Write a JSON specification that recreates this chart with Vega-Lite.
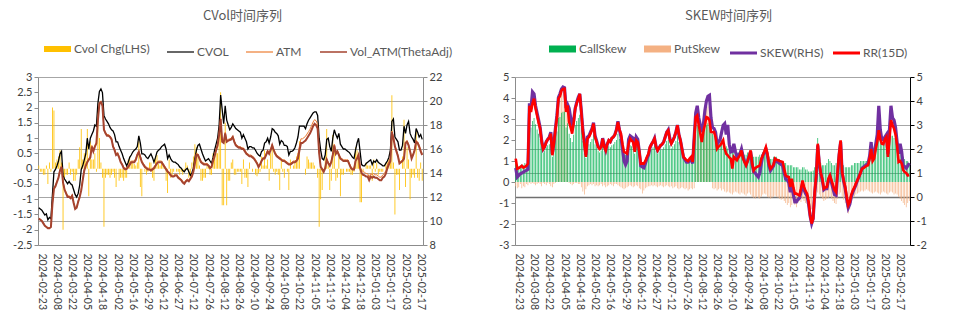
{
"$schema": "https://vega.github.io/schema/vega-lite/v6.json",
"padding": {"left": 12, "top": 10, "right": 5, "bottom": 5},
"bounds": "flush",
"spacing": 92,
"config": {
  "view": {"stroke": null},
  "font": "Lato",
  "axis": {"labelFont": "Lato", "labelFontSize": 11, "labelColor": "#404040", "domainColor": "#8C8C8C", "tickColor": "#8C8C8C", "tickSize": 4, "title": null, "grid": false},
  "title": {"font": "Noto Sans CJK SC", "fontSize": 13, "fontWeight": "normal", "color": "#595959", "offset": 20},
  "legend": {"labelFont": "Lato", "labelFontSize": 12, "labelColor": "#595959", "orient": "none", "direction": "horizontal", "symbolType": "stroke", "symbolSize": 729, "columnPadding": 15, "labelOffset": 10.5, "title": null}
},
"datasets": {"dd": [
{"d":"2024-02-21","c":0.1,"v":11.1,"a":10.25,"t":10.2,"g":0.85,"q":-0.2,"s":1.21,"r":1.6},
{"d":"2024-02-22","c":-0.1,"v":11.0,"a":10.15,"t":10.1,"g":0.8,"q":-0.3,"s":0.83,"r":1.18},
{"d":"2024-02-23","c":-0.1,"v":10.9,"a":10.05,"t":10.0,"g":0.75,"q":-0.25,"s":0.9,"r":1.2},
{"d":"2024-02-26","c":-0.2,"v":10.7,"a":9.85,"t":9.8,"g":0.8,"q":-0.1,"s":0.97,"r":1.25},
{"d":"2024-02-27","c":-0.2,"v":10.5,"a":9.65,"t":9.6,"g":0.85,"q":-0.3,"s":1.0,"r":1.3},
{"d":"2024-02-28","c":0.1,"v":10.6,"a":9.55,"t":9.5,"g":0.8,"q":-0.2,"s":1.04,"r":1.22},
{"d":"2024-02-29","c":-0.5,"v":10.1,"a":9.45,"t":9.4,"g":0.9,"q":-0.25,"s":1.08,"r":1.25},
{"d":"2024-03-01","c":0.2,"v":10.3,"a":9.45,"t":9.4,"g":0.85,"q":-0.1,"s":1.11,"r":1.3},
{"d":"2024-03-04","c":-0.1,"v":10.2,"a":9.55,"t":9.5,"g":0.8,"q":-0.15,"s":1.15,"r":1.39},
{"d":"2024-03-05","c":2.0,"v":12.2,"a":11.45,"t":11.4,"g":2.8,"q":-0.05,"s":3.9,"r":3.8},
{"d":"2024-03-06","c":1.9,"v":14.1,"a":12.75,"t":12.7,"g":2.6,"q":-0.1,"s":3.7,"r":3.54},
{"d":"2024-03-07","c":0.2,"v":14.3,"a":13.0,"t":12.9,"g":2.9,"q":-0.05,"s":4.38,"r":3.9},
{"d":"2024-03-08","c":0.3,"v":14.6,"a":13.35,"t":13.25,"g":3.05,"q":-0.1,"s":4.3,"r":4.1},
{"d":"2024-03-11","c":0.4,"v":15.0,"a":13.7,"t":13.6,"g":2.75,"q":-0.15,"s":3.8,"r":3.7},
{"d":"2024-03-12","c":0.6,"v":15.6,"a":14.3,"t":14.2,"g":2.5,"q":-0.1,"s":3.5,"r":3.4},
{"d":"2024-03-13","c":0.2,"v":15.8,"a":14.6,"t":14.5,"g":2.3,"q":-0.05,"s":3.2,"r":3.1},
{"d":"2024-03-14","c":-2.0,"v":13.8,"a":13.3,"t":13.2,"g":2.05,"q":-0.1,"s":2.9,"r":2.85},
{"d":"2024-03-15","c":-0.3,"v":13.5,"a":12.7,"t":12.6,"g":1.65,"q":-0.2,"s":2.35,"r":2.3},
{"d":"2024-03-18","c":-0.2,"v":13.3,"a":12.4,"t":12.3,"g":1.4,"q":-0.05,"s":2.0,"r":2.0},
{"d":"2024-03-19","c":-0.2,"v":13.1,"a":12.1,"t":12.0,"g":1.5,"q":-0.1,"s":2.1,"r":2.1},
{"d":"2024-03-20","c":0.2,"v":13.3,"a":12.1,"t":12.0,"g":1.65,"q":-0.15,"s":2.3,"r":2.29},
{"d":"2024-03-21","c":-0.2,"v":13.1,"a":12.0,"t":11.9,"g":1.75,"q":-0.05,"s":2.4,"r":2.4},
{"d":"2024-03-22","c":-0.1,"v":13.0,"a":12.2,"t":12.1,"g":1.8,"q":-0.1,"s":2.5,"r":2.46},
{"d":"2024-03-25","c":-0.4,"v":12.6,"a":11.6,"t":11.5,"g":1.9,"q":-0.2,"s":2.7,"r":2.64},
{"d":"2024-03-26","c":-0.4,"v":12.2,"a":11.1,"t":11.0,"g":1.2,"q":-0.25,"s":1.8,"r":1.74},
{"d":"2024-03-27","c":-0.2,"v":12.0,"a":11.2,"t":11.1,"g":1.55,"q":-0.1,"s":2.25,"r":2.2},
{"d":"2024-03-28","c":0.3,"v":12.3,"a":11.7,"t":11.6,"g":2.05,"q":-0.05,"s":2.85,"r":2.8},
{"d":"2024-03-29","c":0.7,"v":13.0,"a":12.1,"t":12.0,"g":2.4,"q":2.9,"s":3.4,"r":3.3},
{"d":"2024-04-01","c":1.3,"v":14.3,"a":12.65,"t":12.55,"g":3.05,"q":3.8,"s":4.15,"r":4.1},
{"d":"2024-04-02","c":0.3,"v":14.6,"a":13.5,"t":13.4,"g":3.1,"q":4.0,"s":4.3,"r":4.2},
{"d":"2024-04-03","c":0.5,"v":15.1,"a":14.3,"t":14.2,"g":3.3,"q":4.2,"s":4.5,"r":4.44},
{"d":"2024-04-04","c":0.5,"v":15.6,"a":14.7,"t":14.6,"g":3.35,"q":4.3,"s":4.58,"r":4.5},
{"d":"2024-04-05","c":1.3,"v":16.9,"a":15.0,"t":14.9,"g":3.35,"q":4.3,"s":4.55,"r":4.51},
{"d":"2024-04-07","c":-0.9,"v":16.0,"a":15.2,"t":15.1,"g":2.6,"q":3.4,"s":3.7,"r":3.54},
{"d":"2024-04-08","c":0.9,"v":16.9,"a":15.4,"t":15.3,"g":2.8,"q":3.3,"s":3.85,"r":3.82},
{"d":"2024-04-09","c":0.3,"v":17.2,"a":16.3,"t":16.2,"g":2.3,"q":-0.05,"s":3.7,"r":3.12},
{"d":"2024-04-10","c":0.3,"v":17.5,"a":15.9,"t":15.8,"g":2.1,"q":-0.1,"s":3.3,"r":2.9},
{"d":"2024-04-11","c":0.5,"v":18.0,"a":16.3,"t":16.2,"g":1.9,"q":-0.15,"s":2.8,"r":2.64},
{"d":"2024-04-12","c":-0.1,"v":17.9,"a":16.55,"t":16.45,"g":2.25,"q":-0.1,"s":3.2,"r":3.1},
{"d":"2024-04-15","c":1.9,"v":19.8,"a":18.5,"t":18.4,"g":2.7,"q":-0.05,"s":3.7,"r":3.68},
{"d":"2024-04-16","c":1.0,"v":20.8,"a":19.9,"t":19.8,"g":2.9,"q":-0.05,"s":3.95,"r":3.9},
{"d":"2024-04-17","c":0.2,"v":21.0,"a":20.0,"t":19.9,"g":3.05,"q":-0.1,"s":4.15,"r":4.1},
{"d":"2024-04-18","c":-0.3,"v":20.7,"a":19.7,"t":19.6,"g":3.2,"q":-0.1,"s":4.3,"r":4.3},
{"d":"2024-04-19","c":-1.9,"v":18.8,"a":17.7,"t":17.6,"g":2.6,"q":-0.25,"s":3.6,"r":3.54},
{"d":"2024-04-22","c":-0.3,"v":18.5,"a":17.4,"t":17.3,"g":1.95,"q":-0.45,"s":2.8,"r":2.71},
{"d":"2024-04-23","c":-0.2,"v":18.3,"a":17.2,"t":17.1,"g":1.55,"q":-0.6,"s":2.3,"r":2.2},
{"d":"2024-04-24","c":-0.2,"v":18.1,"a":17.2,"t":17.1,"g":1.15,"q":-0.35,"s":1.75,"r":1.67},
{"d":"2024-04-25","c":-0.3,"v":17.8,"a":17.1,"t":17.0,"g":1.75,"q":-0.2,"s":2.5,"r":2.43},
{"d":"2024-04-26","c":-0.2,"v":17.6,"a":16.9,"t":16.8,"g":1.8,"q":-0.15,"s":2.55,"r":2.5},
{"d":"2024-04-29","c":-0.1,"v":17.5,"a":16.3,"t":16.2,"g":1.9,"q":-0.1,"s":2.7,"r":2.64},
{"d":"2024-04-30","c":-0.3,"v":17.2,"a":16.0,"t":15.9,"g":2.05,"q":-0.15,"s":2.85,"r":2.8},
{"d":"2024-05-01","c":-0.6,"v":16.6,"a":15.6,"t":15.5,"g":2.25,"q":-0.1,"s":3.1,"r":3.06},
{"d":"2024-05-02","c":0.0,"v":16.6,"a":15.7,"t":15.6,"g":1.8,"q":-0.2,"s":2.55,"r":2.5},
{"d":"2024-05-03","c":-0.4,"v":16.2,"a":15.4,"t":15.3,"g":1.65,"q":-0.15,"s":2.35,"r":2.3},
{"d":"2024-05-06","c":-0.3,"v":15.9,"a":15.0,"t":14.9,"g":1.5,"q":-0.2,"s":2.1,"r":2.08},
{"d":"2024-05-07","c":-0.3,"v":15.6,"a":14.8,"t":14.7,"g":1.4,"q":-0.15,"s":2.05,"r":2.0},
{"d":"2024-05-08","c":-0.4,"v":15.2,"a":14.5,"t":14.4,"g":1.5,"q":-0.1,"s":2.1,"r":2.08},
{"d":"2024-05-09","c":-0.3,"v":14.9,"a":14.4,"t":14.3,"g":1.75,"q":-0.2,"s":2.45,"r":2.43},
{"d":"2024-05-10","c":-0.3,"v":14.6,"a":14.45,"t":14.35,"g":1.5,"q":-0.15,"s":2.15,"r":2.1},
{"d":"2024-05-13","c":0.3,"v":14.9,"a":14.6,"t":14.5,"g":1.35,"q":-0.25,"s":1.95,"r":1.94},
{"d":"2024-05-14","c":0.4,"v":15.3,"a":14.8,"t":14.7,"g":1.55,"q":-0.2,"s":2.2,"r":2.2},
{"d":"2024-05-15","c":0.2,"v":15.5,"a":15.0,"t":14.9,"g":1.7,"q":-0.15,"s":2.35,"r":2.36},
{"d":"2024-05-16","c":0.25,"v":15.75,"a":15.0,"t":14.9,"g":1.65,"q":-0.1,"s":2.3,"r":2.3},
{"d":"2024-05-17","c":0.15,"v":15.9,"a":15.0,"t":14.9,"g":1.75,"q":-0.15,"s":2.45,"r":2.45},
{"d":"2024-05-19","c":0.1,"v":16.0,"a":15.2,"t":15.1,"g":1.8,"q":-0.2,"s":2.5,"r":2.5},
{"d":"2024-05-20","c":0.2,"v":16.2,"a":15.6,"t":15.5,"g":1.9,"q":-0.1,"s":2.6,"r":2.6},
{"d":"2024-05-21","c":0.9,"v":17.1,"a":15.85,"t":15.75,"g":2.0,"q":-0.1,"s":2.8,"r":2.78},
{"d":"2024-05-22","c":-0.6,"v":16.5,"a":15.4,"t":15.3,"g":2.3,"q":-0.15,"s":3.15,"r":3.12},
{"d":"2024-05-23","c":-0.9,"v":15.6,"a":15.0,"t":14.9,"g":2.05,"q":-0.2,"s":2.8,"r":2.8},
{"d":"2024-05-24","c":0.0,"v":15.6,"a":14.8,"t":14.7,"g":1.9,"q":-0.25,"s":2.5,"r":2.64},
{"d":"2024-05-27","c":-0.1,"v":15.5,"a":14.6,"t":14.5,"g":1.55,"q":-0.3,"s":2.0,"r":2.2},
{"d":"2024-05-28","c":-0.2,"v":15.3,"a":14.5,"t":14.4,"g":1.35,"q":-0.35,"s":1.5,"r":1.88},
{"d":"2024-05-29","c":-0.1,"v":15.2,"a":14.4,"t":14.3,"g":1.3,"q":-0.3,"s":1.35,"r":1.85},
{"d":"2024-05-30","c":0.2,"v":15.4,"a":14.4,"t":14.3,"g":1.25,"q":-0.25,"s":1.5,"r":1.81},
{"d":"2024-05-31","c":0.2,"v":15.6,"a":14.3,"t":14.2,"g":1.55,"q":-0.2,"s":2.4,"r":2.2},
{"d":"2024-06-03","c":-0.3,"v":15.3,"a":14.4,"t":14.3,"g":1.75,"q":-0.15,"s":2.55,"r":2.43},
{"d":"2024-06-04","c":-0.4,"v":14.9,"a":14.5,"t":14.4,"g":1.7,"q":-0.2,"s":2.5,"r":2.35},
{"d":"2024-06-05","c":0.4,"v":15.3,"a":14.7,"t":14.6,"g":1.65,"q":-0.25,"s":2.45,"r":2.29},
{"d":"2024-06-06","c":0.45,"v":15.75,"a":14.9,"t":14.8,"g":1.35,"q":-0.2,"s":2.0,"r":1.88},
{"d":"2024-06-07","c":0.15,"v":15.9,"a":15.0,"t":14.9,"g":1.7,"q":-0.15,"s":2.5,"r":2.36},
{"d":"2024-06-10","c":0.1,"v":16.0,"a":15.0,"t":14.9,"g":1.65,"q":-0.2,"s":2.4,"r":2.29},
{"d":"2024-06-11","c":0.2,"v":16.2,"a":15.0,"t":14.9,"g":1.35,"q":-0.3,"s":1.9,"r":1.9},
{"d":"2024-06-12","c":0.1,"v":16.3,"a":14.8,"t":14.7,"g":0.95,"q":-0.35,"s":1.3,"r":1.39},
{"d":"2024-06-13","c":0.1,"v":16.4,"a":14.6,"t":14.5,"g":0.95,"q":-0.55,"s":1.25,"r":1.4},
{"d":"2024-06-14","c":-0.4,"v":16.0,"a":14.4,"t":14.3,"g":0.95,"q":-0.4,"s":1.22,"r":1.39},
{"d":"2024-06-17","c":-0.8,"v":15.2,"a":14.2,"t":14.1,"g":1.05,"q":-0.3,"s":1.4,"r":1.5},
{"d":"2024-06-18","c":0.3,"v":15.5,"a":14.1,"t":14.0,"g":1.15,"q":-0.25,"s":1.6,"r":1.67},
{"d":"2024-06-20","c":-0.3,"v":15.2,"a":13.9,"t":13.8,"g":1.25,"q":-0.2,"s":1.75,"r":1.8},
{"d":"2024-06-21","c":-0.2,"v":15.0,"a":13.8,"t":13.7,"g":1.5,"q":-0.2,"s":2.05,"r":2.08},
{"d":"2024-06-24","c":-0.1,"v":14.9,"a":13.8,"t":13.7,"g":1.55,"q":-0.15,"s":2.2,"r":2.2},
{"d":"2024-06-25","c":0.0,"v":14.9,"a":13.9,"t":13.8,"g":1.65,"q":-0.2,"s":2.3,"r":2.3},
{"d":"2024-06-26","c":-0.1,"v":14.8,"a":13.9,"t":13.8,"g":1.75,"q":-0.15,"s":2.45,"r":2.43},
{"d":"2024-06-27","c":-0.1,"v":14.7,"a":13.7,"t":13.6,"g":1.5,"q":-0.2,"s":2.1,"r":2.1},
{"d":"2024-06-28","c":-0.2,"v":14.5,"a":13.6,"t":13.5,"g":1.35,"q":-0.25,"s":1.95,"r":1.94},
{"d":"2024-07-01","c":-0.1,"v":14.4,"a":13.5,"t":13.4,"g":1.45,"q":-0.2,"s":2.05,"r":2.05},
{"d":"2024-07-02","c":-0.2,"v":14.2,"a":13.3,"t":13.2,"g":1.55,"q":-0.15,"s":2.15,"r":2.15},
{"d":"2024-07-03","c":-0.1,"v":14.1,"a":13.2,"t":13.1,"g":1.55,"q":-0.2,"s":2.2,"r":2.2},
{"d":"2024-07-05","c":0.2,"v":14.3,"a":13.4,"t":13.3,"g":1.65,"q":-0.25,"s":2.3,"r":2.29},
{"d":"2024-07-08","c":0.1,"v":14.4,"a":13.5,"t":13.4,"g":1.8,"q":-0.2,"s":2.5,"r":2.5},
{"d":"2024-07-09","c":-0.3,"v":14.1,"a":13.4,"t":13.3,"g":1.95,"q":-0.15,"s":2.7,"r":2.7},
{"d":"2024-07-10","c":-0.3,"v":13.8,"a":13.6,"t":13.5,"g":2.0,"q":-0.2,"s":2.8,"r":2.78},
{"d":"2024-07-11","c":0.2,"v":14.0,"a":13.8,"t":13.7,"g":1.75,"q":-0.25,"s":2.45,"r":2.4},
{"d":"2024-07-12","c":0.4,"v":14.4,"a":14.2,"t":14.1,"g":1.6,"q":-0.2,"s":2.25,"r":2.22},
{"d":"2024-07-15","c":0.8,"v":15.2,"a":14.9,"t":14.8,"g":1.7,"q":-0.3,"s":2.35,"r":2.35},
{"d":"2024-07-16","c":0.7,"v":15.9,"a":15.6,"t":15.5,"g":1.8,"q":-0.25,"s":2.5,"r":2.5},
{"d":"2024-07-17","c":0.4,"v":16.3,"a":15.6,"t":15.5,"g":1.95,"q":-0.2,"s":2.7,"r":2.7},
{"d":"2024-07-18","c":0.1,"v":16.4,"a":15.3,"t":15.2,"g":2.2,"q":-0.3,"s":3.0,"r":2.99},
{"d":"2024-07-19","c":-0.4,"v":16.0,"a":15.0,"t":14.9,"g":1.9,"q":-0.35,"s":2.6,"r":2.6},
{"d":"2024-07-22","c":-0.4,"v":15.6,"a":14.9,"t":14.8,"g":1.7,"q":-0.3,"s":2.35,"r":2.36},
{"d":"2024-07-23","c":-0.3,"v":15.3,"a":14.8,"t":14.7,"g":1.4,"q":-0.25,"s":2.0,"r":2.0},
{"d":"2024-07-24","c":-0.3,"v":15.0,"a":14.8,"t":14.7,"g":1.15,"q":-0.3,"s":1.65,"r":1.67},
{"d":"2024-07-25","c":0.1,"v":15.1,"a":14.8,"t":14.7,"g":1.1,"q":-0.35,"s":1.55,"r":1.6},
{"d":"2024-07-26","c":0.1,"v":15.2,"a":14.7,"t":14.6,"g":1.05,"q":-0.3,"s":1.45,"r":1.53},
{"d":"2024-07-29","c":-0.2,"v":15.0,"a":14.5,"t":14.4,"g":1.05,"q":-0.4,"s":1.45,"r":1.5},
{"d":"2024-07-30","c":-0.2,"v":14.8,"a":14.6,"t":14.5,"g":1.1,"q":-0.35,"s":1.5,"r":1.6},
{"d":"2024-07-31","c":0.5,"v":15.3,"a":15.1,"t":15.0,"g":1.15,"q":-0.3,"s":1.6,"r":1.67},
{"d":"2024-08-01","c":0.6,"v":15.9,"a":15.5,"t":15.4,"g":1.0,"q":-0.35,"s":1.4,"r":1.46},
{"d":"2024-08-02","c":0.5,"v":16.4,"a":16.0,"t":15.9,"g":1.75,"q":-0.3,"s":2.5,"r":2.4},
{"d":"2024-08-05","c":0.5,"v":16.9,"a":16.4,"t":16.3,"g":2.45,"q":2.9,"s":3.5,"r":3.33},
{"d":"2024-08-06","c":1.1,"v":18.0,"a":17.3,"t":17.2,"g":2.7,"q":3.3,"s":3.8,"r":3.4},
{"d":"2024-08-07","c":2.5,"v":20.5,"a":18.6,"t":18.5,"g":2.5,"q":3.0,"s":3.3,"r":2.99},
{"d":"2024-08-08","c":-1.2,"v":19.3,"a":16.7,"t":16.6,"g":2.3,"q":2.8,"s":3.0,"r":2.64},
{"d":"2024-08-12","c":-1.2,"v":18.1,"a":16.6,"t":16.5,"g":2.2,"q":2.6,"s":2.7,"r":2.29},
{"d":"2024-08-13","c":1.5,"v":19.6,"a":17.4,"t":17.3,"g":2.3,"q":2.9,"s":3.0,"r":2.71},
{"d":"2024-08-14","c":-1.2,"v":18.4,"a":16.7,"t":16.6,"g":2.5,"q":3.3,"s":3.6,"r":3.0},
{"d":"2024-08-15","c":-0.4,"v":18.0,"a":16.8,"t":16.7,"g":2.7,"q":3.5,"s":4.0,"r":3.33},
{"d":"2024-08-16","c":-0.4,"v":17.6,"a":16.85,"t":16.75,"g":2.8,"q":3.6,"s":4.2,"r":3.3},
{"d":"2024-08-19","c":0.2,"v":17.8,"a":16.9,"t":16.8,"g":2.8,"q":3.6,"s":4.24,"r":3.2},
{"d":"2024-08-20","c":0.3,"v":18.1,"a":17.1,"t":17.0,"g":2.5,"q":3.0,"s":3.3,"r":2.71},
{"d":"2024-08-21","c":-0.2,"v":17.9,"a":16.7,"t":16.6,"g":2.3,"q":-0.3,"s":2.9,"r":2.7},
{"d":"2024-08-22","c":-0.2,"v":17.7,"a":16.4,"t":16.3,"g":2.2,"q":-0.35,"s":2.85,"r":2.71},
{"d":"2024-08-23","c":-0.1,"v":17.6,"a":16.3,"t":16.2,"g":2.0,"q":-0.3,"s":2.7,"r":2.5},
{"d":"2024-08-26","c":-0.1,"v":17.5,"a":16.2,"t":16.1,"g":1.9,"q":-0.4,"s":2.2,"r":2.01},
{"d":"2024-08-27","c":-0.1,"v":17.4,"a":16.2,"t":16.1,"g":1.9,"q":-0.35,"s":2.3,"r":2.1},
{"d":"2024-08-28","c":-0.5,"v":16.9,"a":16.1,"t":16.0,"g":2.0,"q":-0.3,"s":2.4,"r":2.15},
{"d":"2024-08-29","c":0.3,"v":17.2,"a":16.1,"t":16.0,"g":2.0,"q":-0.4,"s":2.7,"r":2.25},
{"d":"2024-08-30","c":-0.3,"v":16.9,"a":15.9,"t":15.8,"g":1.9,"q":-0.35,"s":2.99,"r":2.36},
{"d":"2024-09-03","c":-0.3,"v":16.6,"a":15.7,"t":15.6,"g":1.8,"q":-0.45,"s":3.06,"r":2.0},
{"d":"2024-09-04","c":-0.6,"v":16.0,"a":15.6,"t":15.5,"g":1.7,"q":-0.5,"s":2.6,"r":1.8},
{"d":"2024-09-05","c":0.2,"v":16.2,"a":15.5,"t":15.4,"g":1.6,"q":-0.45,"s":3.0,"r":1.74},
{"d":"2024-09-06","c":0.0,"v":16.2,"a":15.5,"t":15.4,"g":1.6,"q":-0.5,"s":2.2,"r":1.65},
{"d":"2024-09-09","c":-0.1,"v":16.1,"a":15.4,"t":15.3,"g":1.5,"q":-0.55,"s":1.88,"r":1.6},
{"d":"2024-09-10","c":0.0,"v":16.1,"a":15.3,"t":15.2,"g":1.4,"q":-0.6,"s":1.9,"r":1.18},
{"d":"2024-09-11","c":-0.2,"v":15.9,"a":15.1,"t":15.0,"g":1.5,"q":-0.5,"s":2.22,"r":1.67},
{"d":"2024-09-12","c":-0.25,"v":15.65,"a":14.9,"t":14.8,"g":1.5,"q":-0.45,"s":1.9,"r":1.6},
{"d":"2024-09-13","c":-0.15,"v":15.5,"a":14.6,"t":14.5,"g":1.4,"q":-0.5,"s":1.7,"r":1.53},
{"d":"2024-09-16","c":-0.1,"v":15.4,"a":14.8,"t":14.7,"g":1.4,"q":-0.55,"s":1.75,"r":1.65},
{"d":"2024-09-17","c":0.4,"v":15.8,"a":15.1,"t":15.0,"g":1.5,"q":-0.6,"s":1.8,"r":1.74},
{"d":"2024-09-18","c":0.1,"v":15.9,"a":15.3,"t":15.2,"g":1.5,"q":-0.5,"s":2.0,"r":1.94},
{"d":"2024-09-19","c":0.6,"v":16.5,"a":15.3,"t":15.2,"g":1.4,"q":-0.55,"s":1.7,"r":1.6},
{"d":"2024-09-20","c":0.1,"v":16.6,"a":15.6,"t":15.5,"g":1.3,"q":-0.6,"s":1.5,"r":1.45},
{"d":"2024-09-23","c":0.3,"v":16.9,"a":15.9,"t":15.8,"g":1.3,"q":-0.65,"s":1.35,"r":1.32},
{"d":"2024-09-24","c":-0.4,"v":16.5,"a":15.7,"t":15.6,"g":1.4,"q":-0.55,"s":1.5,"r":1.5},
{"d":"2024-09-25","c":0.5,"v":17.0,"a":16.0,"t":15.9,"g":1.4,"q":-0.5,"s":1.7,"r":1.7},
{"d":"2024-09-26","c":0.7,"v":17.7,"a":16.4,"t":16.3,"g":1.4,"q":-0.6,"s":1.9,"r":1.94},
{"d":"2024-09-27","c":-0.1,"v":17.6,"a":16.0,"t":15.9,"g":1.3,"q":-0.7,"s":1.35,"r":1.39},
{"d":"2024-09-30","c":-0.2,"v":17.4,"a":15.7,"t":15.6,"g":1.2,"q":-0.75,"s":1.05,"r":1.11},
{"d":"2024-10-01","c":-0.1,"v":17.3,"a":15.5,"t":15.4,"g":1.2,"q":-0.8,"s":1.0,"r":1.2},
{"d":"2024-10-02","c":-0.2,"v":17.1,"a":15.4,"t":15.3,"g":1.2,"q":-0.7,"s":0.9,"r":1.25},
{"d":"2024-10-03","c":-0.7,"v":16.4,"a":15.3,"t":15.2,"g":1.2,"q":-0.75,"s":0.83,"r":1.28},
{"d":"2024-10-04","c":0.3,"v":16.7,"a":15.2,"t":15.1,"g":1.3,"q":-0.8,"s":1.0,"r":1.32},
{"d":"2024-10-07","c":-0.1,"v":16.6,"a":15.1,"t":15.0,"g":1.3,"q":-0.7,"s":1.4,"r":1.6},
{"d":"2024-10-08","c":-0.3,"v":16.3,"a":15.1,"t":15.0,"g":1.4,"q":-0.6,"s":1.74,"r":1.74},
{"d":"2024-10-09","c":0.0,"v":16.3,"a":15.0,"t":14.9,"g":1.4,"q":-0.55,"s":1.85,"r":1.9},
{"d":"2024-10-10","c":-0.1,"v":16.2,"a":14.9,"t":14.8,"g":1.4,"q":-0.6,"s":2.0,"r":2.08},
{"d":"2024-10-11","c":-0.7,"v":15.5,"a":14.8,"t":14.7,"g":1.3,"q":-0.7,"s":1.75,"r":1.81},
{"d":"2024-10-14","c":0.3,"v":15.8,"a":14.8,"t":14.7,"g":1.2,"q":-0.75,"s":1.3,"r":1.39},
{"d":"2024-10-15","c":0.0,"v":15.8,"a":14.9,"t":14.8,"g":1.1,"q":-0.8,"s":1.1,"r":1.18},
{"d":"2024-10-16","c":0.1,"v":15.9,"a":15.0,"t":14.9,"g":1.1,"q":-0.75,"s":1.2,"r":1.25},
{"d":"2024-10-17","c":0.2,"v":16.1,"a":15.0,"t":14.9,"g":1.2,"q":-0.7,"s":1.3,"r":1.35},
{"d":"2024-10-18","c":0.4,"v":16.5,"a":15.1,"t":15.0,"g":1.2,"q":-0.65,"s":1.55,"r":1.6},
{"d":"2024-10-21","c":0.5,"v":17.0,"a":15.55,"t":15.2,"g":1.2,"q":-0.7,"s":1.5,"r":1.55},
{"d":"2024-10-22","c":0.9,"v":17.9,"a":16.25,"t":15.9,"g":1.1,"q":-0.75,"s":1.45,"r":1.53},
{"d":"2024-10-23","c":0.0,"v":17.9,"a":16.85,"t":16.5,"g":1.1,"q":-0.8,"s":1.4,"r":1.5},
{"d":"2024-10-24","c":0.0,"v":17.9,"a":16.85,"t":16.5,"g":1.0,"q":-0.85,"s":1.35,"r":1.48},
{"d":"2024-10-25","c":0.0,"v":17.9,"a":16.95,"t":16.6,"g":1.0,"q":-0.8,"s":1.3,"r":1.46},
{"d":"2024-10-28","c":-0.2,"v":17.7,"a":17.05,"t":16.7,"g":0.9,"q":-0.9,"s":1.0,"r":1.18},
{"d":"2024-10-29","c":0.4,"v":18.1,"a":17.25,"t":16.9,"g":0.9,"q":-1.0,"s":0.75,"r":0.9},
{"d":"2024-10-30","c":0.3,"v":18.4,"a":17.45,"t":17.1,"g":0.8,"q":-1.1,"s":0.7,"r":0.85},
{"d":"2024-10-31","c":0.2,"v":18.6,"a":17.65,"t":17.3,"g":0.8,"q":-1.0,"s":0.6,"r":0.83},
{"d":"2024-11-01","c":0.2,"v":18.8,"a":17.95,"t":17.6,"g":0.8,"q":-1.2,"s":0.2,"r":0.42},
{"d":"2024-11-04","c":0.2,"v":19.0,"a":18.25,"t":17.9,"g":0.8,"q":-1.1,"s":0.5,"r":0.76},
{"d":"2024-11-05","c":0.1,"v":19.1,"a":18.45,"t":18.1,"g":0.7,"q":-1.0,"s":0.1,"r":0.4},
{"d":"2024-11-06","c":0.0,"v":19.1,"a":18.35,"t":18.0,"g":0.7,"q":-1.1,"s":-0.2,"r":0.14},
{"d":"2024-11-07","c":-0.3,"v":18.8,"a":18.05,"t":17.7,"g":0.7,"q":-1.2,"s":-0.2,"r":0.14},
{"d":"2024-11-08","c":-1.9,"v":16.9,"a":15.75,"t":15.65,"g":0.7,"q":-1.0,"s":-0.1,"r":0.1},
{"d":"2024-11-11","c":-1.0,"v":15.9,"a":14.6,"t":14.5,"g":0.6,"q":-0.9,"s":-0.05,"r":0.07},
{"d":"2024-11-12","c":-0.7,"v":15.2,"a":14.4,"t":14.3,"g":0.6,"q":-0.95,"s":0.2,"r":0.35},
{"d":"2024-11-13","c":-0.1,"v":15.1,"a":14.2,"t":14.1,"g":0.7,"q":-0.8,"s":0.55,"r":0.69},
{"d":"2024-11-14","c":0.4,"v":15.5,"a":14.5,"t":14.4,"g":0.7,"q":-0.9,"s":0.3,"r":0.42},
{"d":"2024-11-15","c":1.3,"v":16.8,"a":15.2,"t":15.1,"g":0.6,"q":-1.0,"s":0.15,"r":0.25},
{"d":"2024-11-18","c":0.1,"v":16.9,"a":14.9,"t":14.8,"g":0.6,"q":-1.05,"s":0.05,"r":0.14},
{"d":"2024-11-19","c":-0.7,"v":16.2,"a":14.7,"t":14.6,"g":0.5,"q":-1.1,"s":-0.3,"r":-0.2},
{"d":"2024-11-20","c":-0.4,"v":15.8,"a":15.0,"t":14.9,"g":0.5,"q":-1.2,"s":-0.8,"r":-0.76},
{"d":"2024-11-21","c":1.1,"v":16.9,"a":15.6,"t":15.5,"g":0.5,"q":-1.3,"s":-1.1,"r":-1.11},
{"d":"2024-11-22","c":0.7,"v":17.6,"a":16.4,"t":16.3,"g":0.55,"q":-1.2,"s":-0.9,"r":-0.9},
{"d":"2024-11-25","c":-0.4,"v":17.2,"a":15.7,"t":15.6,"g":0.7,"q":-0.9,"s":0.15,"r":0.2},
{"d":"2024-11-26","c":-0.3,"v":16.9,"a":15.9,"t":15.8,"g":1.4,"q":-0.7,"s":0.85,"r":0.9},
{"d":"2024-11-27","c":0.4,"v":17.3,"a":15.6,"t":15.5,"g":2.1,"q":-0.5,"s":2.15,"r":2.22},
{"d":"2024-11-29","c":-0.9,"v":16.4,"a":15.3,"t":15.2,"g":1.2,"q":-0.6,"s":1.4,"r":1.46},
{"d":"2024-12-02","c":-0.2,"v":16.2,"a":15.2,"t":15.1,"g":0.9,"q":-0.7,"s":0.95,"r":1.0},
{"d":"2024-12-03","c":-0.2,"v":16.0,"a":15.1,"t":15.0,"g":0.8,"q":-0.8,"s":0.7,"r":0.76},
{"d":"2024-12-04","c":0.0,"v":16.0,"a":15.1,"t":15.0,"g":0.8,"q":-0.9,"s":0.3,"r":0.35},
{"d":"2024-12-05","c":-0.1,"v":15.9,"a":15.1,"t":15.0,"g":0.8,"q":-0.85,"s":0.35,"r":0.4},
{"d":"2024-12-06","c":-0.1,"v":15.8,"a":15.1,"t":15.0,"g":0.9,"q":-0.8,"s":0.35,"r":0.42},
{"d":"2024-12-09","c":-0.1,"v":15.7,"a":14.8,"t":14.7,"g":1.1,"q":-0.75,"s":0.7,"r":0.76},
{"d":"2024-12-10","c":-0.2,"v":15.5,"a":14.5,"t":14.4,"g":1.0,"q":-0.7,"s":0.85,"r":0.9},
{"d":"2024-12-11","c":-0.2,"v":15.3,"a":14.4,"t":14.3,"g":0.9,"q":-0.8,"s":0.6,"r":0.7},
{"d":"2024-12-12","c":-0.1,"v":15.2,"a":14.4,"t":14.3,"g":0.8,"q":-0.9,"s":0.35,"r":0.49},
{"d":"2024-12-13","c":0.7,"v":15.9,"a":15.1,"t":15.0,"g":0.8,"q":-1.0,"s":0.1,"r":0.3},
{"d":"2024-12-16","c":0.6,"v":16.5,"a":15.3,"t":15.2,"g":0.9,"q":-1.05,"s":0.07,"r":0.21},
{"d":"2024-12-17","c":0.4,"v":16.9,"a":15.6,"t":15.5,"g":1.1,"q":-0.8,"s":0.95,"r":1.04},
{"d":"2024-12-18","c":-1.1,"v":15.8,"a":14.5,"t":14.4,"g":1.4,"q":-0.6,"s":1.75,"r":1.8},
{"d":"2024-12-19","c":-1.1,"v":14.7,"a":14.25,"t":14.0,"g":1.2,"q":-0.5,"s":2.3,"r":2.36},
{"d":"2024-12-20","c":-0.1,"v":14.6,"a":14.1,"t":13.85,"g":0.9,"q":-0.7,"s":1.0,"r":1.04},
{"d":"2024-12-23","c":0.0,"v":14.6,"a":14.05,"t":13.8,"g":0.8,"q":-0.85,"s":0.65,"r":0.7},
{"d":"2024-12-24","c":0.2,"v":14.8,"a":13.95,"t":13.7,"g":0.7,"q":-1.0,"s":0.35,"r":0.42},
{"d":"2024-12-26","c":0.1,"v":14.9,"a":13.95,"t":13.7,"g":0.7,"q":-1.2,"s":-0.1,"r":0.0},
{"d":"2024-12-27","c":0.1,"v":15.0,"a":13.65,"t":13.4,"g":0.7,"q":-1.5,"s":-0.45,"r":-0.34},
{"d":"2024-12-30","c":0.1,"v":15.1,"a":13.95,"t":13.7,"g":0.7,"q":-1.3,"s":-0.3,"r":-0.2},
{"d":"2024-12-31","c":-0.4,"v":14.7,"a":13.85,"t":13.6,"g":0.8,"q":-1.0,"s":0.0,"r":0.1},
{"d":"2025-01-02","c":0.3,"v":15.0,"a":13.95,"t":13.7,"g":0.8,"q":-0.8,"s":0.2,"r":0.28},
{"d":"2025-01-03","c":-0.1,"v":14.9,"a":13.85,"t":13.6,"g":0.9,"q":-0.7,"s":0.35,"r":0.4},
{"d":"2025-01-06","c":0.2,"v":15.1,"a":13.85,"t":13.6,"g":0.9,"q":-0.6,"s":0.5,"r":0.56},
{"d":"2025-01-07","c":-0.2,"v":14.9,"a":13.75,"t":13.5,"g":0.9,"q":-0.55,"s":0.7,"r":0.7},
{"d":"2025-01-08","c":-0.1,"v":14.8,"a":13.65,"t":13.4,"g":0.9,"q":-0.5,"s":0.85,"r":0.83},
{"d":"2025-01-09","c":-0.1,"v":14.7,"a":13.65,"t":13.4,"g":1.0,"q":-0.45,"s":1.0,"r":1.0},
{"d":"2025-01-10","c":-0.1,"v":14.6,"a":13.85,"t":13.6,"g":1.0,"q":-0.4,"s":1.2,"r":1.18},
{"d":"2025-01-13","c":0.0,"v":14.6,"a":13.95,"t":13.7,"g":1.0,"q":-0.45,"s":1.25,"r":1.2},
{"d":"2025-01-14","c":0.2,"v":14.8,"a":14.2,"t":13.95,"g":1.0,"q":-0.4,"s":1.3,"r":1.25},
{"d":"2025-01-15","c":0.2,"v":15.0,"a":14.65,"t":14.4,"g":1.0,"q":-0.35,"s":1.35,"r":1.3},
{"d":"2025-01-16","c":0.3,"v":15.3,"a":14.95,"t":14.7,"g":1.0,"q":-0.4,"s":1.4,"r":1.32},
{"d":"2025-01-17","c":0.6,"v":15.9,"a":15.25,"t":15.0,"g":1.1,"q":-0.45,"s":1.7,"r":1.6},
{"d":"2025-01-21","c":2.4,"v":18.3,"a":17.5,"t":17.4,"g":1.3,"q":-0.5,"s":2.29,"r":2.0},
{"d":"2025-01-22","c":0.2,"v":18.5,"a":17.0,"t":16.9,"g":1.3,"q":-0.55,"s":1.6,"r":1.5},
{"d":"2025-01-23","c":-1.5,"v":17.0,"a":16.3,"t":16.2,"g":1.4,"q":-0.5,"s":1.8,"r":1.6},
{"d":"2025-01-24","c":-0.2,"v":16.8,"a":15.9,"t":15.8,"g":1.6,"q":-0.45,"s":2.2,"r":2.0},
{"d":"2025-01-27","c":-0.2,"v":16.6,"a":15.5,"t":15.4,"g":1.8,"q":-0.5,"s":2.6,"r":2.3},
{"d":"2025-01-28","c":-0.7,"v":15.9,"a":14.9,"t":14.8,"g":2.1,"q":-0.55,"s":3.8,"r":2.78},
{"d":"2025-01-29","c":0.0,"v":15.9,"a":15.0,"t":14.9,"g":2.1,"q":-0.6,"s":2.8,"r":2.4},
{"d":"2025-01-30","c":0.4,"v":16.3,"a":15.1,"t":15.0,"g":2.0,"q":-0.5,"s":2.4,"r":2.22},
{"d":"2025-01-31","c":1.6,"v":17.9,"a":15.3,"t":15.2,"g":1.9,"q":-0.45,"s":2.4,"r":2.2},
{"d":"2025-02-03","c":-0.6,"v":17.3,"a":16.6,"t":16.5,"g":1.9,"q":-0.5,"s":2.5,"r":2.4},
{"d":"2025-02-04","c":0.7,"v":18.0,"a":16.7,"t":16.6,"g":2.0,"q":-0.55,"s":2.6,"r":2.5},
{"d":"2025-02-05","c":0.3,"v":18.3,"a":16.4,"t":16.3,"g":1.9,"q":-0.6,"s":1.8,"r":1.67},
{"d":"2025-02-06","c":-1.0,"v":17.3,"a":15.9,"t":15.8,"g":2.0,"q":-0.5,"s":2.8,"r":2.4},
{"d":"2025-02-07","c":-0.3,"v":17.0,"a":15.3,"t":15.2,"g":2.2,"q":-0.45,"s":3.8,"r":3.2},
{"d":"2025-02-10","c":-0.2,"v":16.8,"a":15.6,"t":15.5,"g":2.2,"q":-0.5,"s":3.3,"r":3.0},
{"d":"2025-02-11","c":-0.3,"v":16.5,"a":16.0,"t":15.9,"g":2.1,"q":-0.6,"s":3.2,"r":2.85},
{"d":"2025-02-12","c":1.2,"v":17.7,"a":16.7,"t":16.6,"g":2.0,"q":-0.55,"s":2.9,"r":2.6},
{"d":"2025-02-13","c":-0.3,"v":17.4,"a":16.6,"t":16.5,"g":1.8,"q":-0.6,"s":2.3,"r":2.15},
{"d":"2025-02-14","c":-0.4,"v":17.0,"a":16.3,"t":16.2,"g":1.6,"q":-0.7,"s":1.8,"r":1.46},
{"d":"2025-02-17","c":0.2,"v":17.2,"a":15.9,"t":15.8,"g":1.4,"q":-0.8,"s":2.22,"r":1.5},
{"d":"2025-02-18","c":-0.4,"v":16.8,"a":15.6,"t":15.5,"g":1.3,"q":-0.9,"s":1.9,"r":1.4},
{"d":"2025-02-19","g":1.2,"q":-1.0,"s":1.3,"r":1.13},
{"d":"2025-02-20","g":1.1,"q":-1.1,"s":1.27,"r":1.04},
{"d":"2025-02-21","g":1.0,"q":-1.2,"s":1.2,"r":1.0},
{"d":"2025-02-24","g":1.0,"q":-1.0,"s":1.3,"r":0.9},
{"d":"2025-02-25","g":0.9,"q":-0.9,"s":1.41,"r":0.92}
]},
"data": {"name": "dd"},
"resolve": {"scale": {"color": "independent"}, "legend": {"color": "independent"}},
"hconcat": [
{
  "title": {"text": "CVol时间序列", "dx": 12},
  "width": 385, "height": 168,
  "transform": [{"filter": "isValid(datum.v)"}],
  "encoding": {
    "x": {"field": "d", "type": "ordinal", "scale": {"type": "band", "paddingInner": 0.45, "paddingOuter": 0.25},
          "axis": {"values": ["2024-02-23","2024-03-08","2024-03-22","2024-04-05","2024-04-18","2024-05-02","2024-05-16","2024-05-29","2024-06-12","2024-06-27","2024-07-12","2024-07-26","2024-08-12","2024-08-26","2024-09-10","2024-09-24","2024-10-08","2024-10-22","2024-11-05","2024-11-19","2024-12-04","2024-12-18","2025-01-03","2025-01-17","2025-02-03","2025-02-17"], "labelAngle": 90, "ticks": false, "labelPadding": 8, "labelOverlap": false, "labelFontSize": 10.5}}
  },
  "resolve": {"scale": {"y": "independent"}},
  "layer": [
    {
      "mark": {"type": "bar"},
      "encoding": {
        "y": {"field": "c", "type": "quantitative", "stack": null, "scale": {"domain": [-2.5, 3], "nice": false, "zero": false},
              "axis": {"orient": "left", "values": [-2.5,-2,-1.5,-1,-0.5,0,0.5,1,1.5,2,2.5,3], "labelExpr": "'' + datum.value"}},
        "color": {"datum": "Cvol Chg(LHS)", "type": "nominal",
          "scale": {"domain": ["Cvol Chg(LHS)", "CVOL", "ATM", "Vol_ATM(ThetaAdj)"], "range": ["#FFC000", "#000000", "#ED7D31", "#A5432F"]},
          "legend": {"legendX": 13.5, "legendY": -34, "columnPadding": 14,
            "encode": {"symbols": {"update": {
              "shape": {"value": "stroke"},
              "fill": {"value": "transparent"},
              "stroke": {"signal": "datum.value === 'Cvol Chg(LHS)' ? '#FFC000' : datum.value === 'CVOL' ? '#000000' : datum.value === 'ATM' ? '#ED7D31' : '#A5432F'"},
              "strokeWidth": {"signal": "datum.value === 'Cvol Chg(LHS)' ? 6 : datum.value === 'Vol_ATM(ThetaAdj)' ? 1.5 : 1.2"},
              "opacity": {"value": 1}}}}}}
      }
    },
    {
      "layer": [
        {"mark": {"type": "line", "strokeWidth": 1.3},
         "encoding": {
           "y": {"field": "v", "type": "quantitative", "scale": {"domain": [8, 22], "nice": false, "zero": false},
                 "axis": {"orient": "right", "values": [8,10,12,14,16,18,20,22], "grid": true, "gridColor": "#A6A6A6"}},
           "color": {"datum": "CVOL", "type": "nominal", "scale": {"domain": ["Cvol Chg(LHS)", "CVOL", "ATM", "Vol_ATM(ThetaAdj)"], "range": ["#FFC000", "#000000", "#ED7D31", "#A5432F"]}}}},
        {"mark": {"type": "line", "strokeWidth": 1},
         "encoding": {
           "y": {"field": "a", "type": "quantitative", "scale": {"domain": [8, 22], "nice": false, "zero": false},
                 "axis": {"orient": "right", "values": [8,10,12,14,16,18,20,22], "grid": true, "gridColor": "#A6A6A6"}},
           "color": {"datum": "ATM", "type": "nominal", "scale": {"domain": ["Cvol Chg(LHS)", "CVOL", "ATM", "Vol_ATM(ThetaAdj)"], "range": ["#FFC000", "#000000", "#ED7D31", "#A5432F"]}}}},
        {"mark": {"type": "line", "strokeWidth": 2},
         "encoding": {
           "y": {"field": "t", "type": "quantitative", "scale": {"domain": [8, 22], "nice": false, "zero": false},
                 "axis": {"orient": "right", "values": [8,10,12,14,16,18,20,22], "grid": true, "gridColor": "#A6A6A6"}},
           "color": {"datum": "Vol_ATM(ThetaAdj)", "type": "nominal", "scale": {"domain": ["Cvol Chg(LHS)", "CVOL", "ATM", "Vol_ATM(ThetaAdj)"], "range": ["#FFC000", "#000000", "#ED7D31", "#A5432F"]}}}}
      ]
    }
  ]
},
{
  "title": {"text": "SKEW时间序列", "dx": 16},
  "width": 395, "height": 168,
  "encoding": {
    "x": {"field": "d", "type": "ordinal", "scale": {"type": "band", "paddingInner": 0.55, "paddingOuter": 0.25},
          "axis": {"values": ["2024-02-23","2024-03-08","2024-03-22","2024-04-05","2024-04-18","2024-05-02","2024-05-16","2024-05-29","2024-06-12","2024-06-27","2024-07-12","2024-07-26","2024-08-12","2024-08-26","2024-09-10","2024-09-24","2024-10-08","2024-10-22","2024-11-05","2024-11-19","2024-12-04","2024-12-18","2025-01-03","2025-01-17","2025-02-03","2025-02-17"], "labelAngle": 90, "ticks": false, "labelPadding": 8, "labelOverlap": false, "labelFontSize": 10.5}}
  },
  "resolve": {"scale": {"y": "independent"}},
  "layer": [
    {
      "layer": [
        {"mark": {"type": "bar"},
         "encoding": {
           "y": {"field": "q", "type": "quantitative", "stack": null, "scale": {"domain": [-3, 5], "nice": false, "zero": false},
                 "axis": {"orient": "left", "values": [-3,-2,-1,0,1,2,3,4,5], "labelExpr": "'' + datum.value"}},
           "color": {"datum": "PutSkew", "type": "nominal", "scale": {"domain": ["CallSkew", "PutSkew", "SKEW(RHS)", "RR(15D)"], "range": ["#00B050", "#F4B183", "#7030A0", "#FF0000"]},
             "legend": {"legendX": 41.5, "legendY": -34, "columnPadding": 3,
               "encode": {"symbols": {"update": {
                 "shape": {"value": "stroke"},
                 "fill": {"value": "transparent"},
                 "stroke": {"signal": "datum.value === 'CallSkew' ? '#00B050' : datum.value === 'PutSkew' ? '#F4B183' : datum.value === 'SKEW(RHS)' ? '#7030A0' : '#FF0000'"},
                 "strokeWidth": {"signal": "(datum.value === 'CallSkew' || datum.value === 'PutSkew') ? 7 : 3"},
                 "opacity": {"value": 1}}}}}}}},
        {"mark": {"type": "bar"},
         "encoding": {
           "y": {"field": "g", "type": "quantitative", "stack": null, "scale": {"domain": [-3, 5], "nice": false, "zero": false},
                 "axis": {"orient": "left", "values": [-3,-2,-1,0,1,2,3,4,5], "labelExpr": "'' + datum.value"}},
           "color": {"datum": "CallSkew", "type": "nominal", "scale": {"domain": ["CallSkew", "PutSkew", "SKEW(RHS)", "RR(15D)"], "range": ["#00B050", "#F4B183", "#7030A0", "#FF0000"]}}}}
      ]
    },
    {
      "layer": [
        {"mark": {"type": "line", "strokeWidth": 3.2},
         "encoding": {
           "y": {"field": "s", "type": "quantitative", "scale": {"domain": [-2, 5], "nice": false, "zero": false},
                 "axis": {"orient": "right", "values": [-2,-1,0,1,2,3,4,5], "labelExpr": "'' + datum.value", "grid": true,
                          "gridColor": {"condition": {"test": "datum.value === 0", "value": "#707070"}, "value": "#A6A6A6"},
                          "gridWidth": {"condition": {"test": "datum.value === 0", "value": 1.6}, "value": 1},
                          "domainColor": "#000000", "tickColor": "#000000"}},
           "color": {"datum": "SKEW(RHS)", "type": "nominal", "scale": {"domain": ["CallSkew", "PutSkew", "SKEW(RHS)", "RR(15D)"], "range": ["#00B050", "#F4B183", "#7030A0", "#FF0000"]}}}},
        {"mark": {"type": "line", "strokeWidth": 2.6},
         "encoding": {
           "y": {"field": "r", "type": "quantitative", "scale": {"domain": [-2, 5], "nice": false, "zero": false},
                 "axis": {"orient": "right", "values": [-2,-1,0,1,2,3,4,5], "labelExpr": "'' + datum.value", "grid": true,
                          "gridColor": {"condition": {"test": "datum.value === 0", "value": "#707070"}, "value": "#A6A6A6"},
                          "gridWidth": {"condition": {"test": "datum.value === 0", "value": 1.6}, "value": 1},
                          "domainColor": "#000000", "tickColor": "#000000"}},
           "color": {"datum": "RR(15D)", "type": "nominal", "scale": {"domain": ["CallSkew", "PutSkew", "SKEW(RHS)", "RR(15D)"], "range": ["#00B050", "#F4B183", "#7030A0", "#FF0000"]}}}}
      ]
    }
  ]
}
]
}
